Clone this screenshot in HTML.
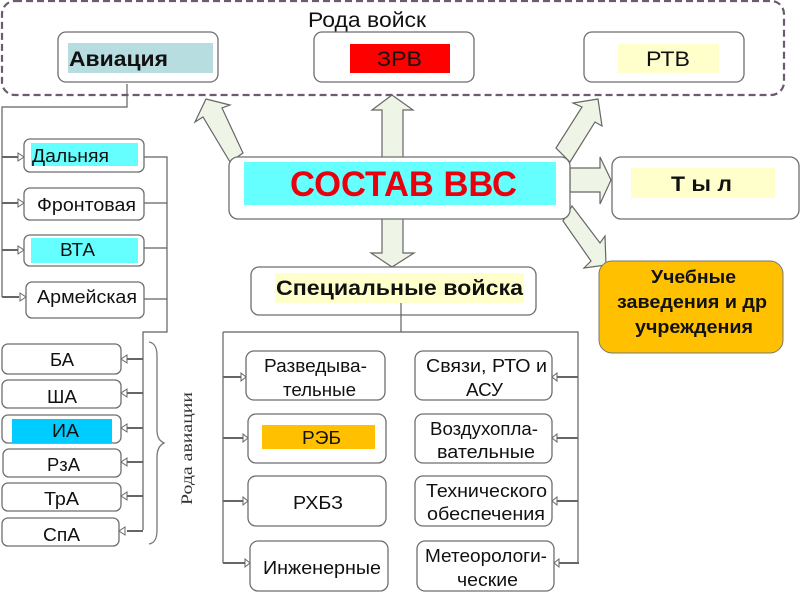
<!DOCTYPE html>
<html><head><meta charset="utf-8"><style>
html,body{margin:0;padding:0;background:#fff}
svg{display:block}
text{font-family:"Liberation Sans",sans-serif;fill:#111;text-anchor:start}
.b{fill:#fff;stroke:#6e6e6e;stroke-width:1.3}
.l{fill:none;stroke:#606060;stroke-width:1.2}
.a{fill:#eef5e6;stroke:#666;stroke-width:1.2}
.h{fill:#fff;stroke:#666;stroke-width:1}
.s{fill:none;stroke:#666;stroke-width:2}
.t{font-size:18.5px}
.k{font-size:21.5px}
.w{font-size:18.5px;font-weight:bold}
</style></head><body>
<svg width="800" height="600" viewBox="0 0 800 600" xmlns="http://www.w3.org/2000/svg">
<rect x="2" y="1" width="782" height="94" rx="13" fill="#fff" stroke="#6d5a70" stroke-width="2.2" stroke-dasharray="7 4"/>
<text x="308" y="27" class="k" textLength="118" lengthAdjust="spacingAndGlyphs">Рода войск</text>

<rect class="b" x="58" y="32" width="160" height="50" rx="8"/>
<rect x="68" y="43" width="145" height="30" fill="#b7dde0"/>
<text x="69" y="66" class="k" font-weight="bold" textLength="99" lengthAdjust="spacingAndGlyphs">Авиация</text>
<rect class="b" x="314" y="32" width="160" height="50" rx="8"/>
<rect x="350" y="44" width="100" height="29" fill="#ff0000"/>
<text x="377" y="66" class="k" textLength="45" lengthAdjust="spacingAndGlyphs">ЗРВ</text>
<rect class="b" x="584" y="32" width="160" height="50" rx="8"/>
<rect x="618" y="44" width="101" height="29" fill="#ffffcc"/>
<text x="646" y="66" class="k" textLength="44" lengthAdjust="spacingAndGlyphs">РТВ</text>

<!-- block arrows -->
<polygon class="a" points="230,162 203,117 195,122 206,99 230,105 222,108 243,153"/>
<polygon class="a" points="382,160 382,110 372,110 392,95 413,110 403,110 403,160"/>
<polygon class="a" points="556,148 582,107 573,103 598,99 602,126 595,122 570,162"/>
<polygon class="a" points="570,168 600,168 600,157 611,180 600,204 600,192 570,192"/>
<polygon class="a" points="382,218 382,253 371,253 392,267 414,253 403,253 403,218"/>
<polygon class="a" points="572,206 600,243 605,236 606,265 584,268 591,261 563,221"/>

<rect class="b" x="229" y="157" width="341" height="62" rx="9"/>
<rect x="244" y="162" width="312" height="43" fill="#66ffff"/>
<text x="290" y="196" font-size="35" font-weight="bold" style="fill:#e8000c" textLength="227" lengthAdjust="spacingAndGlyphs">СОСТАВ ВВС</text>

<rect class="b" x="612" y="157" width="187" height="62" rx="9"/>
<rect x="631" y="168" width="144" height="30" fill="#ffffcc"/>
<text x="671" y="191" class="k" font-weight="bold" textLength="61" lengthAdjust="spacingAndGlyphs">Т ы л</text>

<rect class="b" x="251" y="267" width="285" height="48" rx="8"/>
<rect x="275" y="273" width="249" height="30" fill="#ffffcc"/>
<text x="276" y="295" class="k" font-weight="bold" textLength="247" lengthAdjust="spacingAndGlyphs">Специальные войска</text>

<rect x="599" y="261" width="184" height="92" rx="13" fill="#ffc000" stroke="#777" stroke-width="1"/>
<text x="651" y="283" class="w" textLength="85" lengthAdjust="spacingAndGlyphs">Учебные</text>
<text x="617" y="308" class="w" textLength="150" lengthAdjust="spacingAndGlyphs">заведения и др</text>
<text x="635" y="333" class="w" textLength="118" lengthAdjust="spacingAndGlyphs">учреждения</text>

<!-- left connectors -->
<path class="l" d="M127 84V107H2V297"/>
<path class="l" d="M144 157H167V332H143V530"/>
<path class="l" d="M144 203H167M144 248H167M144 299H167"/>
<path class="s" d="M2 157H18M2 203H18M2 250H18M2 297H19"/>
<path class="s" d="M127 359H143M127 393H143M127 428H143M127 462H143M127 496H143M127 531H143"/>
<polygon class="h" points="18,153 24,157 18,161"/><polygon class="h" points="18,199 24,203 18,207"/>
<polygon class="h" points="18,246 24,250 18,254"/><polygon class="h" points="20,293 26,297 20,301"/>
<polygon class="h" points="127,355 121,359 127,363"/><polygon class="h" points="127,389 121,393 127,397"/>
<polygon class="h" points="127,424 121,428 127,432"/><polygon class="h" points="127,458 121,462 127,466"/>
<polygon class="h" points="127,492 121,496 127,500"/><polygon class="h" points="125,527 119,531 125,535"/>

<rect class="b" x="24" y="139" width="120" height="33" rx="6"/>
<rect x="31" y="143" width="107" height="23" fill="#66ffff"/>
<text x="32" y="162" class="t" textLength="77" lengthAdjust="spacingAndGlyphs">Дальняя</text>
<rect class="b" x="24" y="188" width="120" height="32" rx="6"/>
<text x="37" y="211" class="t" textLength="99" lengthAdjust="spacingAndGlyphs">Фронтовая</text>
<rect class="b" x="24" y="235" width="120" height="31" rx="6"/>
<rect x="31" y="238" width="107" height="25" fill="#66ffff"/>
<text x="60" y="256" class="t" textLength="35" lengthAdjust="spacingAndGlyphs">ВТА</text>
<rect class="b" x="26" y="282" width="118" height="36" rx="6"/>
<text x="37" y="303" class="t" textLength="100" lengthAdjust="spacingAndGlyphs">Армейская</text>

<rect class="b" x="2" y="344" width="119" height="30" rx="6"/>
<text x="50" y="366" class="t" textLength="24" lengthAdjust="spacingAndGlyphs">БА</text>
<rect class="b" x="2" y="380" width="119" height="28" rx="6"/>
<text x="47" y="403" class="t" textLength="30" lengthAdjust="spacingAndGlyphs">ША</text>
<rect class="b" x="2" y="415" width="119" height="28" rx="6"/>
<rect x="12" y="419" width="100" height="24" fill="#00ccff"/>
<text x="52" y="437" class="t" textLength="27" lengthAdjust="spacingAndGlyphs">ИА</text>
<rect class="b" x="3" y="449" width="118" height="28" rx="6"/>
<text x="47" y="471" class="t" textLength="33" lengthAdjust="spacingAndGlyphs">РзА</text>
<rect class="b" x="2" y="483" width="119" height="28" rx="6"/>
<text x="44" y="505" class="t" textLength="35" lengthAdjust="spacingAndGlyphs">ТрА</text>
<rect class="b" x="2" y="518" width="117" height="28" rx="6"/>
<text x="43" y="541" class="t" textLength="37" lengthAdjust="spacingAndGlyphs">СпА</text>

<!-- brace -->
<path d="M149 342C155 343 157 348 157 356V430C157 438 160 441 164 443C160 445 157 449 157 457V530C157 538 155 543 149 544" fill="none" stroke="#777" stroke-width="1.3"/>
<text transform="translate(192,505) rotate(-90)" font-size="16" style="font-family:'Liberation Serif',serif;fill:#333" textLength="113" lengthAdjust="spacingAndGlyphs">Рода авиации</text>

<!-- special connectors -->
<path class="l" d="M401 303V332M223 332H578V563"/>
<path class="l" d="M223 332V563"/>
<path class="s" d="M223 377H241M223 438H243M223 501H243M223 563H245"/>
<path class="s" d="M557 377H578M557 438H578M557 501H578M559 563H579"/>
<polygon class="h" points="241,373 246,377 241,381"/><polygon class="h" points="243,434 248,438 243,442"/>
<polygon class="h" points="243,497 248,501 243,505"/><polygon class="h" points="245,559 250,563 245,567"/>
<polygon class="h" points="557,373 552,377 557,381"/><polygon class="h" points="557,434 552,438 557,442"/>
<polygon class="h" points="557,497 552,501 557,505"/><polygon class="h" points="559,559 554,563 559,567"/>

<rect class="b" x="246" y="351" width="139" height="49" rx="8"/>
<text x="264" y="372" class="t" textLength="103" lengthAdjust="spacingAndGlyphs">Разведыва-</text>
<text x="283" y="396" class="t" textLength="73" lengthAdjust="spacingAndGlyphs">тельные</text>
<rect class="b" x="415" y="351" width="137" height="49" rx="8"/>
<text x="426" y="372" class="t" textLength="121" lengthAdjust="spacingAndGlyphs">Связи, РТО и</text>
<text x="466" y="396" class="t" textLength="37" lengthAdjust="spacingAndGlyphs">АСУ</text>
<rect class="b" x="248" y="414" width="138" height="49" rx="8"/>
<rect x="262" y="425" width="113" height="24" fill="#ffc000"/>
<text x="302" y="444" class="t" textLength="39" lengthAdjust="spacingAndGlyphs">РЭБ</text>
<rect class="b" x="415" y="414" width="137" height="49" rx="8"/>
<text x="430" y="435" class="t" textLength="108" lengthAdjust="spacingAndGlyphs">Воздухопла-</text>
<text x="437" y="458" class="t" textLength="98" lengthAdjust="spacingAndGlyphs">вательные</text>
<rect class="b" x="248" y="476" width="138" height="50" rx="8"/>
<text x="293" y="509" class="t" textLength="50" lengthAdjust="spacingAndGlyphs">РХБЗ</text>
<rect class="b" x="415" y="476" width="137" height="50" rx="8"/>
<text x="426" y="497" class="t" textLength="121" lengthAdjust="spacingAndGlyphs">Технического</text>
<text x="427" y="520" class="t" textLength="118" lengthAdjust="spacingAndGlyphs">обеспечения</text>
<rect class="b" x="250" y="541" width="138" height="50" rx="8"/>
<text x="263" y="574" class="t" textLength="118" lengthAdjust="spacingAndGlyphs">Инженерные</text>
<rect class="b" x="417" y="541" width="137" height="50" rx="8"/>
<text x="425" y="562" class="t" textLength="122" lengthAdjust="spacingAndGlyphs">Метеорологи-</text>
<text x="457" y="586" class="t" textLength="61" lengthAdjust="spacingAndGlyphs">ческие</text>
</svg>
</body></html>
